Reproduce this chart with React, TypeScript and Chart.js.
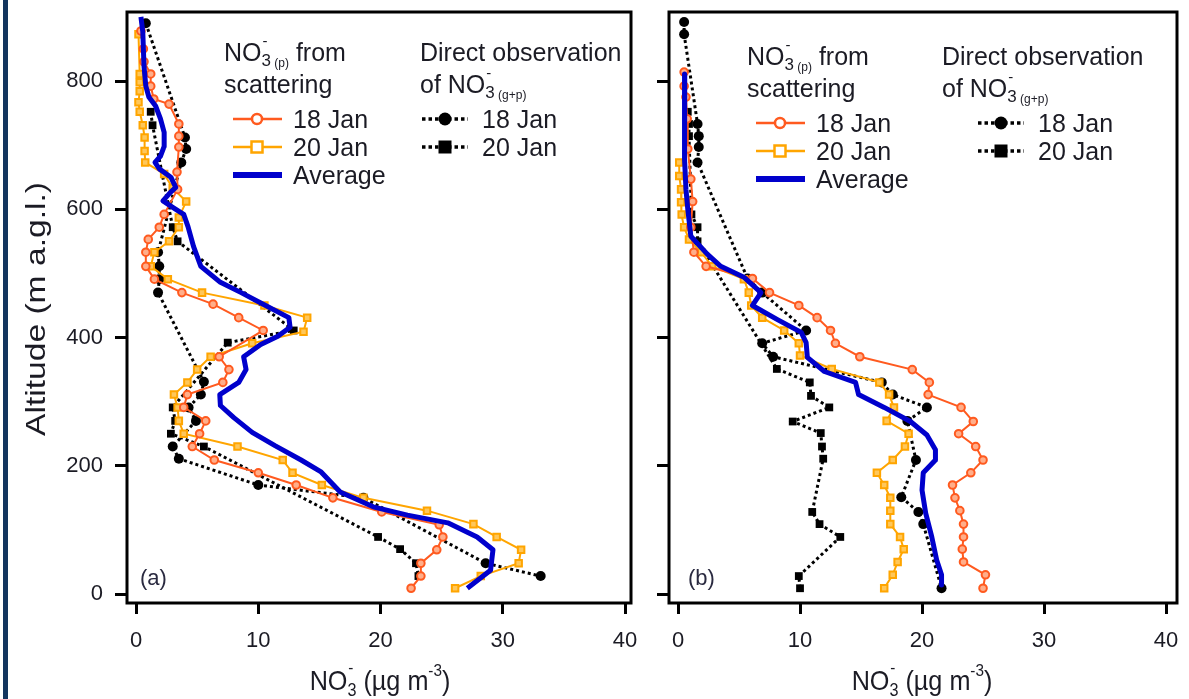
import React, { useEffect, useRef } from "react";
import { Chart, registerables } from "chart.js";

Chart.register(...registerables);

const FONT = '"Liberation Sans", Arial, Helvetica, sans-serif';
const TEXT = "#1b1b24";
const RED = "#ff5a1f";
const ORANGE = "#ffa500";
const BLUE = "#0000cc";

const xTickValues = [0, 10, 20, 30, 40];
const yTickValues = [0, 200, 400, 600, 800];

// ---- Panel (a) ----
const altA_sc18 = [878, 850, 830, 811, 792, 772, 764, 733, 714, 697, 658, 631, 592, 572, 553, 533, 511, 491, 470, 452, 431, 411, 370, 350, 330, 311, 291, 270, 250, 230, 209, 189, 170, 150, 128, 108, 89, 69, 48, 28, 9];
const valA_sc18 = [0.4, 0.6, 0.65, 1.2, 1.2, 1.45, 2.7, 3.5, 3.5, 3.5, 3.35, 3.4, 2.3, 1.9, 1.0, 0.8, 0.8, 1.5, 3.75, 6.3, 8.4, 10.4, 6.8, 7.6, 7.1, 4.2, 3.9, 5.7, 5.2, 4.6, 6.4, 10.0, 13.1, 16.1, 20.1, 24.8, 25.1, 24.6, 23.3, 23.3, 22.5];

const altA_sc20 = [873, 811, 798, 784, 767, 752, 731, 712, 691, 673, 655, 633, 612, 587, 572, 550, 533, 511, 491, 470, 450, 431, 409, 391, 370, 350, 330, 311, 291, 270, 250, 230, 209, 189, 170, 150, 130, 109, 89, 69, 48, 28, 9];
const valA_sc20 = [0.2, 0.3, 0.3, 0.3, 0.2, 0.3, 0.55, 0.7, 0.7, 0.75, 2.3, 3.0, 4.1, 3.5, 3.5, 2.7, 1.5, 1.2, 2.6, 5.4, 10.5, 14.0, 13.7, 9.5, 6.1, 5.0, 4.2, 3.1, 3.4, 3.5, 3.9, 8.3, 12.0, 12.8, 15.2, 18.6, 23.8, 27.6, 29.5, 31.5, 31.3, 28.2, 26.1];

const altA_avg = [900, 877, 823, 792, 775, 761, 741, 720, 698, 683, 673, 663, 650, 634, 627, 613, 603, 592, 573, 542, 511, 486, 470, 452, 431, 416, 402, 389, 370, 350, 330, 311, 294, 275, 252, 231, 209, 191, 159, 136, 123, 111, 89, 69, 37, 9];
const valA_avg = [0.4, 0.55, 0.65, 0.8, 1.05, 1.6, 2.0, 2.3, 2.3, 2.0, 1.55, 1.9, 2.85, 3.25, 2.85, 2.2, 3.0, 3.9, 4.25, 4.7, 5.3, 6.9, 8.6, 10.4, 12.5, 12.6, 11.6, 10.2, 8.8, 9.0, 8.4, 6.85, 6.9, 8.0, 9.5, 11.4, 13.5, 15.1, 16.7, 19.4, 22.2, 25.5, 27.9, 29.2, 29.0, 27.1];

const altA_obs18 = [890, 712, 694, 673, 533, 511, 491, 470, 331, 311, 291, 270, 230, 211, 170, 150, 48, 28];
const valA_obs18 = [0.8, 4.0, 4.1, 3.7, 1.8, 1.9, 1.9, 1.8, 5.55, 5.3, 4.3, 4.9, 3.0, 3.5, 10.0, 18.6, 28.6, 33.1];

const altA_obs20 = [752, 731, 572, 550, 411, 392, 291, 270, 250, 230, 89, 70, 48, 28];
const valA_obs20 = [1.2, 1.35, 3.0, 3.4, 12.9, 7.5, 3.0, 3.2, 2.85, 5.55, 19.8, 21.6, 22.9, 23.1];

// ---- Panel (b) ----
const altB_sc18 = [814, 792, 775, 741, 694, 647, 612, 572, 533, 511, 492, 470, 450, 431, 411, 391, 370, 350, 330, 311, 291, 269, 250, 230, 209, 189, 170, 150, 130, 109, 89, 70, 50, 30, 9];
const valB_sc18 = [0.5, 0.5, 0.65, 0.75, 0.8, 1.05, 1.2, 1.05, 1.3, 2.3, 6.1, 7.5, 9.9, 11.4, 12.5, 12.9, 14.9, 19.2, 20.6, 20.5, 23.2, 24.2, 23.0, 24.4, 25.0, 24.0, 22.5, 22.7, 23.1, 23.4, 23.4, 23.3, 23.4, 25.2, 25.0];

const altB_sc20 = [673, 652, 631, 611, 592, 572, 553, 533, 511, 491, 470, 450, 431, 411, 391, 372, 351, 330, 311, 291, 270, 250, 230, 209, 189, 170, 150, 130, 109, 89, 70, 50, 30, 9];
const valB_sc20 = [0.1, 0.1, 0.25, 0.25, 0.3, 0.5, 0.9, 1.9, 2.8, 5.4, 5.8, 6.0, 6.9, 8.7, 9.9, 10.0, 12.6, 16.5, 17.3, 17.7, 17.1, 18.9, 18.6, 17.6, 16.3, 16.9, 17.4, 17.4, 17.4, 18.2, 18.5, 18.0, 17.6, 16.9];

const altB_avg = [811, 783, 736, 678, 631, 600, 558, 530, 511, 494, 470, 450, 428, 408, 392, 369, 347, 330, 311, 291, 269, 248, 225, 209, 189, 162, 126, 89, 53, 30, 14];
const valB_avg = [0.55, 0.55, 0.5, 0.55, 0.65, 0.8, 1.05, 2.4, 3.5, 5.4, 6.8, 6.1, 8.15, 10.1, 10.5, 10.6, 12.0, 14.55, 14.8, 16.9, 19.05, 20.4, 21.1, 21.1, 20.1, 20.0, 20.3, 20.8, 21.2, 21.6, 21.6];

const altB_obs18 = [892, 873, 733, 714, 697, 673, 492, 470, 411, 391, 370, 330, 311, 291, 270, 209, 151, 128, 109, 9];
const valB_obs18 = [0.5, 0.5, 1.6, 1.7, 1.7, 1.6, 5.7, 6.9, 10.5, 6.9, 7.8, 16.7, 17.6, 20.4, 18.8, 19.5, 18.3, 19.7, 20.1, 21.6];

const altB_obs20 = [752, 733, 714, 592, 572, 550, 351, 330, 309, 291, 269, 251, 230, 211, 128, 109, 89, 28, 9];
const valB_obs20 = [0.8, 0.9, 0.9, 1.1, 1.6, 1.6, 8.1, 10.8, 10.9, 12.4, 9.4, 11.7, 11.8, 11.9, 11.0, 11.6, 13.3, 9.9, 10.0];

type Pt = { x: number; y: number };
function pts(vals: number[], alts: number[]): Pt[] {
  return vals.map((v, i) => ({ x: v, y: alts[i] }));
}

function buildDatasets(sc18: Pt[], sc20: Pt[], avg: Pt[], obs18: Pt[], obs20: Pt[]) {
  return [
    {
      label: "Average",
      data: avg,
      showLine: true,
      borderColor: BLUE,
      borderWidth: 5,
      pointRadius: 0,
      borderJoinStyle: "round",
      order: 0,
    },
    {
      label: "18 Jan (scattering)",
      data: sc18,
      showLine: true,
      borderColor: RED,
      borderWidth: 2,
      pointStyle: "circle",
      pointRadius: 3.8,
      pointBorderWidth: 2,
      pointBorderColor: RED,
      pointBackgroundColor: "#ffae8a",
      order: 1,
    },
    {
      label: "20 Jan (scattering)",
      data: sc20,
      showLine: true,
      borderColor: ORANGE,
      borderWidth: 2,
      pointStyle: "rect",
      pointRadius: 4.6,
      pointBorderWidth: 2,
      pointBorderColor: ORANGE,
      pointBackgroundColor: "#ffc75a",
      order: 2,
    },
    {
      label: "18 Jan (direct)",
      data: obs18,
      showLine: true,
      borderColor: "#000",
      borderWidth: 3,
      borderDash: [3, 3],
      pointStyle: "circle",
      pointRadius: 5,
      pointBorderWidth: 0,
      pointBackgroundColor: "#000",
      order: 3,
    },
    {
      label: "20 Jan (direct)",
      data: obs20,
      showLine: true,
      borderColor: "#000",
      borderWidth: 3,
      borderDash: [3, 3],
      pointStyle: "rect",
      pointRadius: 5.5,
      pointBorderWidth: 0,
      pointBackgroundColor: "#000",
      order: 4,
    },
  ];
}

type Seg = { t: string; size: number; dy?: number; dx?: number; hold?: boolean };

function richWidth(ctx: CanvasRenderingContext2D, segs: Seg[]) {
  let w = 0;
  for (const s of segs) {
    ctx.font = `${s.size}px ${FONT}`;
    if (!s.hold) w += ctx.measureText(s.t).width + (s.dx || 0);
  }
  return w;
}

function drawRich(ctx: CanvasRenderingContext2D, x: number, y: number, segs: Seg[], align: "left" | "center") {
  let cx = align === "center" ? x - richWidth(ctx, segs) / 2 : x;
  ctx.textAlign = "left";
  ctx.textBaseline = "alphabetic";
  for (const s of segs) {
    ctx.font = `${s.size}px ${FONT}`;
    ctx.fillText(s.t, cx + (s.dx || 0), y + (s.dy || 0));
    if (!s.hold) cx += ctx.measureText(s.t).width + (s.dx || 0);
  }
}

function marker(ctx: CanvasRenderingContext2D, style: string, x: number, y: number, r: number, fill: string, stroke: string, lw: number) {
  ctx.beginPath();
  if (style === "circle") ctx.arc(x, y, r, 0, Math.PI * 2);
  else ctx.rect(x - r, y - r, r * 2, r * 2);
  ctx.fillStyle = fill;
  ctx.fill();
  if (lw > 0) {
    ctx.lineWidth = lw;
    ctx.strokeStyle = stroke;
    ctx.stroke();
  }
}

function sampleLine(ctx: CanvasRenderingContext2D, x0: number, x1: number, y: number, color: string, lw: number, dash: number[]) {
  ctx.beginPath();
  ctx.setLineDash(dash);
  ctx.moveTo(x0, y);
  ctx.lineTo(x1, y);
  ctx.strokeStyle = color;
  ctx.lineWidth = lw;
  ctx.stroke();
  ctx.setLineDash([]);
}

type Decor = {
  legLeft: number;
  legRight: number;
  legRightSample: number;
  legDy: number;
  letter: string;
  letterX: number;
  titleX: number;
  yTitle: boolean;
  yLabels: boolean;
};

function drawLegend(ctx: CanvasRenderingContext2D, d: Decor) {
  const L = d.legLeft;
  const R = d.legRight;
  const dy = d.legDy;
  const big = 25;
  ctx.fillStyle = TEXT;
  drawRich(ctx, L, 61 + dy, [
    { t: "NO", size: big },
    { t: "-", size: 15, dy: -15, dx: 1, hold: true },
    { t: "3", size: 17, dy: 5 },
    { t: " (p)", size: 12, dy: 6 },
    { t: " from", size: big },
  ], "left");
  drawRich(ctx, L, 93 + dy, [{ t: "scattering", size: big }], "left");
  drawRich(ctx, R, 61 + dy, [{ t: "Direct observation", size: big }], "left");
  drawRich(ctx, R, 93 + dy, [
    { t: "of NO", size: big },
    { t: "-", size: 15, dy: -15, dx: 1, hold: true },
    { t: "3", size: 17, dy: 5 },
    { t: " (g+p)", size: 12, dy: 6 },
  ], "left");

  const rows = [119 + dy, 147 + dy, 175 + dy];
  // scattering-derived profiles
  sampleLine(ctx, L + 9, L + 58, rows[0], RED, 2.5, []);
  marker(ctx, "circle", L + 33, rows[0], 5, "#fff", RED, 2.5);
  sampleLine(ctx, L + 9, L + 58, rows[1], ORANGE, 2.5, []);
  marker(ctx, "rect", L + 33, rows[1], 5.5, "#fff", ORANGE, 2.5);
  sampleLine(ctx, L + 9, L + 58, rows[2], BLUE, 6, []);
  ctx.fillStyle = TEXT;
  drawRich(ctx, L + 69, rows[0] + 9, [{ t: "18 Jan", size: big }], "left");
  drawRich(ctx, L + 69, rows[1] + 9, [{ t: "20 Jan", size: big }], "left");
  drawRich(ctx, L + 69, rows[2] + 9, [{ t: "Average", size: big }], "left");

  // direct observations
  const S = d.legRightSample;
  sampleLine(ctx, S, S + 46, rows[0], "#000", 3.5, [3.5, 3]);
  marker(ctx, "circle", S + 23, rows[0], 6.5, "#000", "#000", 0);
  sampleLine(ctx, S, S + 46, rows[1], "#000", 3.5, [3.5, 3]);
  marker(ctx, "rect", S + 23, rows[1], 6.5, "#000", "#000", 0);
  ctx.fillStyle = TEXT;
  drawRich(ctx, S + 60, rows[0] + 9, [{ t: "18 Jan", size: big }], "left");
  drawRich(ctx, S + 60, rows[1] + 9, [{ t: "20 Jan", size: big }], "left");
}

function makeDecorPlugin(d: Decor) {
  return {
    id: "panelDecor",
    afterDatasetsDraw(chart: any) {
      const ctx: CanvasRenderingContext2D = chart.ctx;
      const a = chart.chartArea;
      const xs = chart.scales.x;
      const ys = chart.scales.y;
      ctx.save();
      // frame
      ctx.lineWidth = 3;
      ctx.strokeStyle = "#000";
      ctx.strokeRect(a.left, a.top, a.right - a.left, a.bottom - a.top);

      // tick labels, placed from the scales
      ctx.fillStyle = TEXT;
      ctx.font = `22px ${FONT}`;
      ctx.textBaseline = "middle";
      ctx.textAlign = "center";
      for (const t of xs.ticks) {
        ctx.fillText(String(t.value), xs.getPixelForValue(t.value), a.bottom + 38);
      }
      if (d.yLabels) {
        ctx.textAlign = "right";
        for (const t of ys.ticks) {
          ctx.fillText(String(t.value), a.left - 24, ys.getPixelForValue(t.value));
        }
      }

      drawLegend(ctx, d);
      // panel letter
      ctx.fillStyle = "#2a2a40";
      drawRich(ctx, d.letterX, 585, [{ t: d.letter, size: 22 }], "left");
      // x axis title, slightly condensed
      ctx.fillStyle = TEXT;
      ctx.save();
      ctx.translate(d.titleX, 0);
      ctx.scale(0.9, 1);
      drawRich(ctx, 0, 690, [
        { t: "NO", size: 28 },
        { t: "-", size: 17, dy: -17, dx: 1, hold: true },
        { t: "3", size: 18, dy: 6 },
        { t: " (\u00b5g m", size: 28 },
        { t: "-3", size: 17, dy: -14 },
        { t: ")", size: 28 },
      ], "center");
      ctx.restore();
      if (d.yTitle) {
        ctx.save();
        ctx.translate(37, 309);
        ctx.rotate(-Math.PI / 2);
        ctx.scale(1.2, 1);
        ctx.font = `28px ${FONT}`;
        ctx.textAlign = "center";
        ctx.textBaseline = "middle";
        ctx.fillStyle = TEXT;
        ctx.fillText("Altitude (m a.g.l.)", 0, 0);
        ctx.restore();
      }
      ctx.restore();
    },
  };
}

function makeChart(
  canvas: HTMLCanvasElement,
  datasets: any[],
  opts: { yWidth: number; rightPad: number; xMin: number; xMax: number },
  decor: Decor
) {
  return new Chart(canvas, {
    type: "scatter",
    data: { datasets },
    plugins: [makeDecorPlugin(decor)],
    options: {
      responsive: false,
      animation: false,
      devicePixelRatio: 1,
      layout: { autoPadding: false, padding: { top: 12, right: opts.rightPad, left: 0, bottom: 0 } },
      plugins: { legend: { display: false }, tooltip: { enabled: false } },
      elements: { line: { tension: 0 } },
      scales: {
        x: {
          type: "linear",
          min: opts.xMin,
          max: opts.xMax,
          afterBuildTicks: (s: any) => {
            s.ticks = xTickValues.map((v) => ({ value: v }));
          },
          afterFit: (s: any) => {
            s.height = 96;
          },
          grid: { drawOnChartArea: false, drawTicks: true, tickLength: 11, tickWidth: 3, tickColor: "#000" },
          border: { display: false },
          ticks: { display: false },
        },
        y: {
          type: "linear",
          min: -14,
          max: 907.6,
          afterBuildTicks: (s: any) => {
            s.ticks = yTickValues.map((v) => ({ value: v }));
          },
          afterFit: (s: any) => {
            s.width = opts.yWidth;
          },
          grid: { drawOnChartArea: false, drawTicks: true, tickLength: 12, tickWidth: 3, tickColor: "#000" },
          border: { display: false },
          ticks: { display: false },
        },
      },
    } as any,
  });
}

export default function App() {
  const refA = useRef<HTMLCanvasElement>(null);
  const refB = useRef<HTMLCanvasElement>(null);

  useEffect(() => {
    const chartA = makeChart(
      refA.current!,
      buildDatasets(
        pts(valA_sc18, altA_sc18),
        pts(valA_sc20, altA_sc20),
        pts(valA_avg, altA_avg),
        pts(valA_obs18, altA_obs18),
        pts(valA_obs20, altA_obs20)
      ),
      { yWidth: 127, rightPad: 9, xMin: -0.74, xMax: 40.49 },
      { legLeft: 224, legRight: 420, legRightSample: 422, legDy: 0, letter: "(a)", letterX: 140, titleX: 380, yTitle: true, yLabels: true }
    );
    const chartB = makeChart(
      refB.current!,
      buildDatasets(
        pts(valB_sc18, altB_sc18),
        pts(valB_sc20, altB_sc20),
        pts(valB_avg, altB_avg),
        pts(valB_obs18, altB_obs18),
        pts(valB_obs20, altB_obs20)
      ),
      { yWidth: 29, rightPad: 12, xMin: -0.74, xMax: 40.9 },
      { legLeft: 107, legRight: 302, legRightSample: 338, legDy: 4, letter: "(b)", letterX: 48, titleX: 282, yTitle: false, yLabels: false }
    );
    return () => {
      chartA.destroy();
      chartB.destroy();
    };
  }, []);

  return (
    <div style={{ position: "absolute", left: 0, top: 0, width: 1189, height: 699, background: "#fff", overflow: "hidden" }}>
      <div style={{ position: "absolute", left: 3, top: 0, width: 5, height: 699, background: "#13355e" }} />
      <canvas ref={refA} width={640} height={699} style={{ position: "absolute", left: 0, top: 0 }} />
      <canvas ref={refB} width={549} height={699} style={{ position: "absolute", left: 640, top: 0 }} />
    </div>
  );
}
